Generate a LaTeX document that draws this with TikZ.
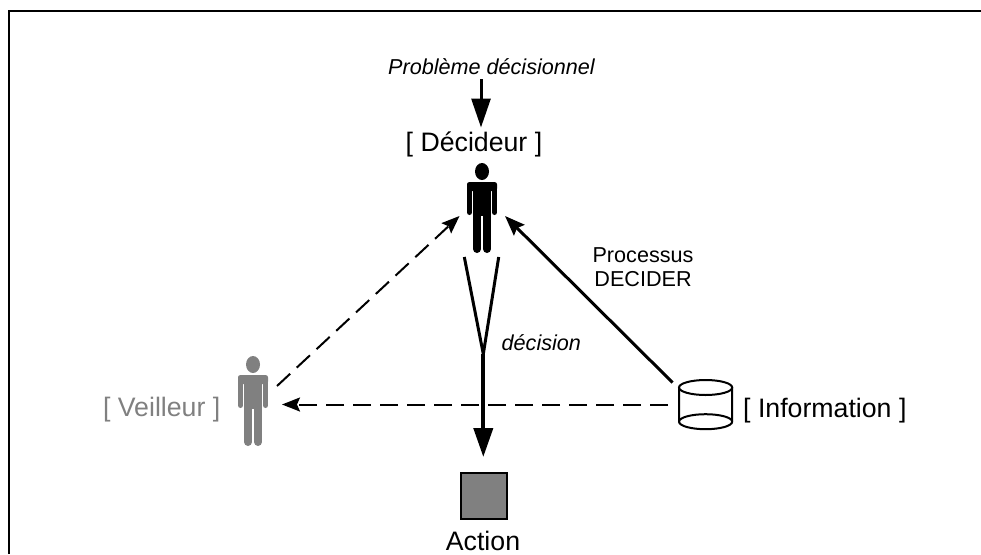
\documentclass[tikz,border=0pt]{standalone}
\usepackage{fontspec}
\setmainfont{Liberation Sans}
\usetikzlibrary{arrows.meta}
\definecolor{midgray}{gray}{0.5}
\tikzset{
  big/.style={font=\fontsize{26.7}{30}\selectfont,anchor=base,inner sep=0pt},
  small/.style={font=\fontsize{21.6}{25}\selectfont,anchor=base,inner sep=0pt},
  smallit/.style={font=\fontsize{21.6}{25}\selectfont\itshape,anchor=base,inner sep=0pt},
  bigtip/.style={-{Triangle[length=29pt,width=19pt]},line width=#1},
  midtip/.style={-{Stealth[length=20pt,width=15pt,inset=3pt]},line width=3pt},
  dashtip/.style={-{Stealth[length=18pt,width=14pt,inset=3pt]},line width=2pt,dash pattern=on 18pt off 9pt},
  frameline/.style={line width=2pt,line cap=butt},
  pics/figure/.style={code={
    \fill[#1] (0,8.5) ellipse[x radius=7,y radius=8.5];
    \fill[#1,rounded corners=2.5pt] (-15,19) rectangle (15,28);
    \fill[#1] (-9,22) rectangle (9,53);
    \draw[#1,line width=5pt,line cap=round] (-12.5,22) -- (-12.5,49.5);
    \draw[#1,line width=5pt,line cap=round] (12.5,22) -- (12.5,49.5);
    \draw[#1,line width=8pt,line cap=round] (-5,50) -- (-5,86);
    \draw[#1,line width=8pt,line cap=round] (5,50) -- (5,86);
  }}
}
\begin{document}
\begin{tikzpicture}[x=1pt,y=-1pt]
\useasboundingbox (0,0) rectangle (981,554);
% frame
\draw[frameline] (9,554) -- (9,11) -- (981,11);
% text
\node[smallit] (prob) at (491.5,74) {Problème décisionnel};
\node[big] (dec) at (474,151) {[ Décideur ]};
\node[small] (proc) at (643,262) {Processus};
\node[small] (dcd) at (643,286.7) {DECIDER};
\node[smallit,anchor=base west] (dcs) at (501.5,350) {décision};
\node[big,text=midgray,anchor=base east] (veil) at (220.5,416) {[ Veilleur ]};
\node[big,anchor=base west] (info) at (743,417) {[ Information ]};
\node[big] (act) at (483,550) {Action};
% figures
\pic at (482,163) {figure=black};
\pic at (253,356) {figure=midgray};
% cylinder
\draw[line width=2pt,fill=white] (679,387.5) -- (679,421.7) arc[start angle=180,end angle=360,x radius=26.6,y radius=-7.5] -- (732.2,387.5);
\draw[line width=2pt] (705.6,387.5) ellipse[x radius=26.6,y radius=7.5];
\draw[line width=2pt] (679,421.7) arc[start angle=180,end angle=0,x radius=26.6,y radius=-7.5];
% square
\node[draw=black,line width=2pt,fill=midgray,minimum size=46pt,inner sep=0pt] (sq) at (483.7,495.9) {};
% coordinates
\coordinate (a1) at (481,79);
\coordinate (a2) at (481,127.5);
\coordinate (b1) at (672.5,382.5);
\coordinate (b2) at (505,216);
\coordinate (c1) at (277,386);
\coordinate (c2) at (459.5,216);
\coordinate (d1) at (668,404.5);
\coordinate (d2) at (282,404.5);
\coordinate (y1) at (464.3,257);
\coordinate (y2) at (498.7,257);
\coordinate (yj) at (483.3,354);
\coordinate (y3) at (483.3,457);
% connectors
\draw[bigtip=3pt] (a1) -- (a2);
\draw[midtip] (b1) -- (b2);
\draw[dashtip] (c1) -- (c2);
\draw[dashtip] (d1) -- (d2);
\draw[line width=3pt] (y1) -- (yj) -- (y2);
\draw[bigtip=4pt] (yj) -- (y3);
\end{tikzpicture}
\end{document}
